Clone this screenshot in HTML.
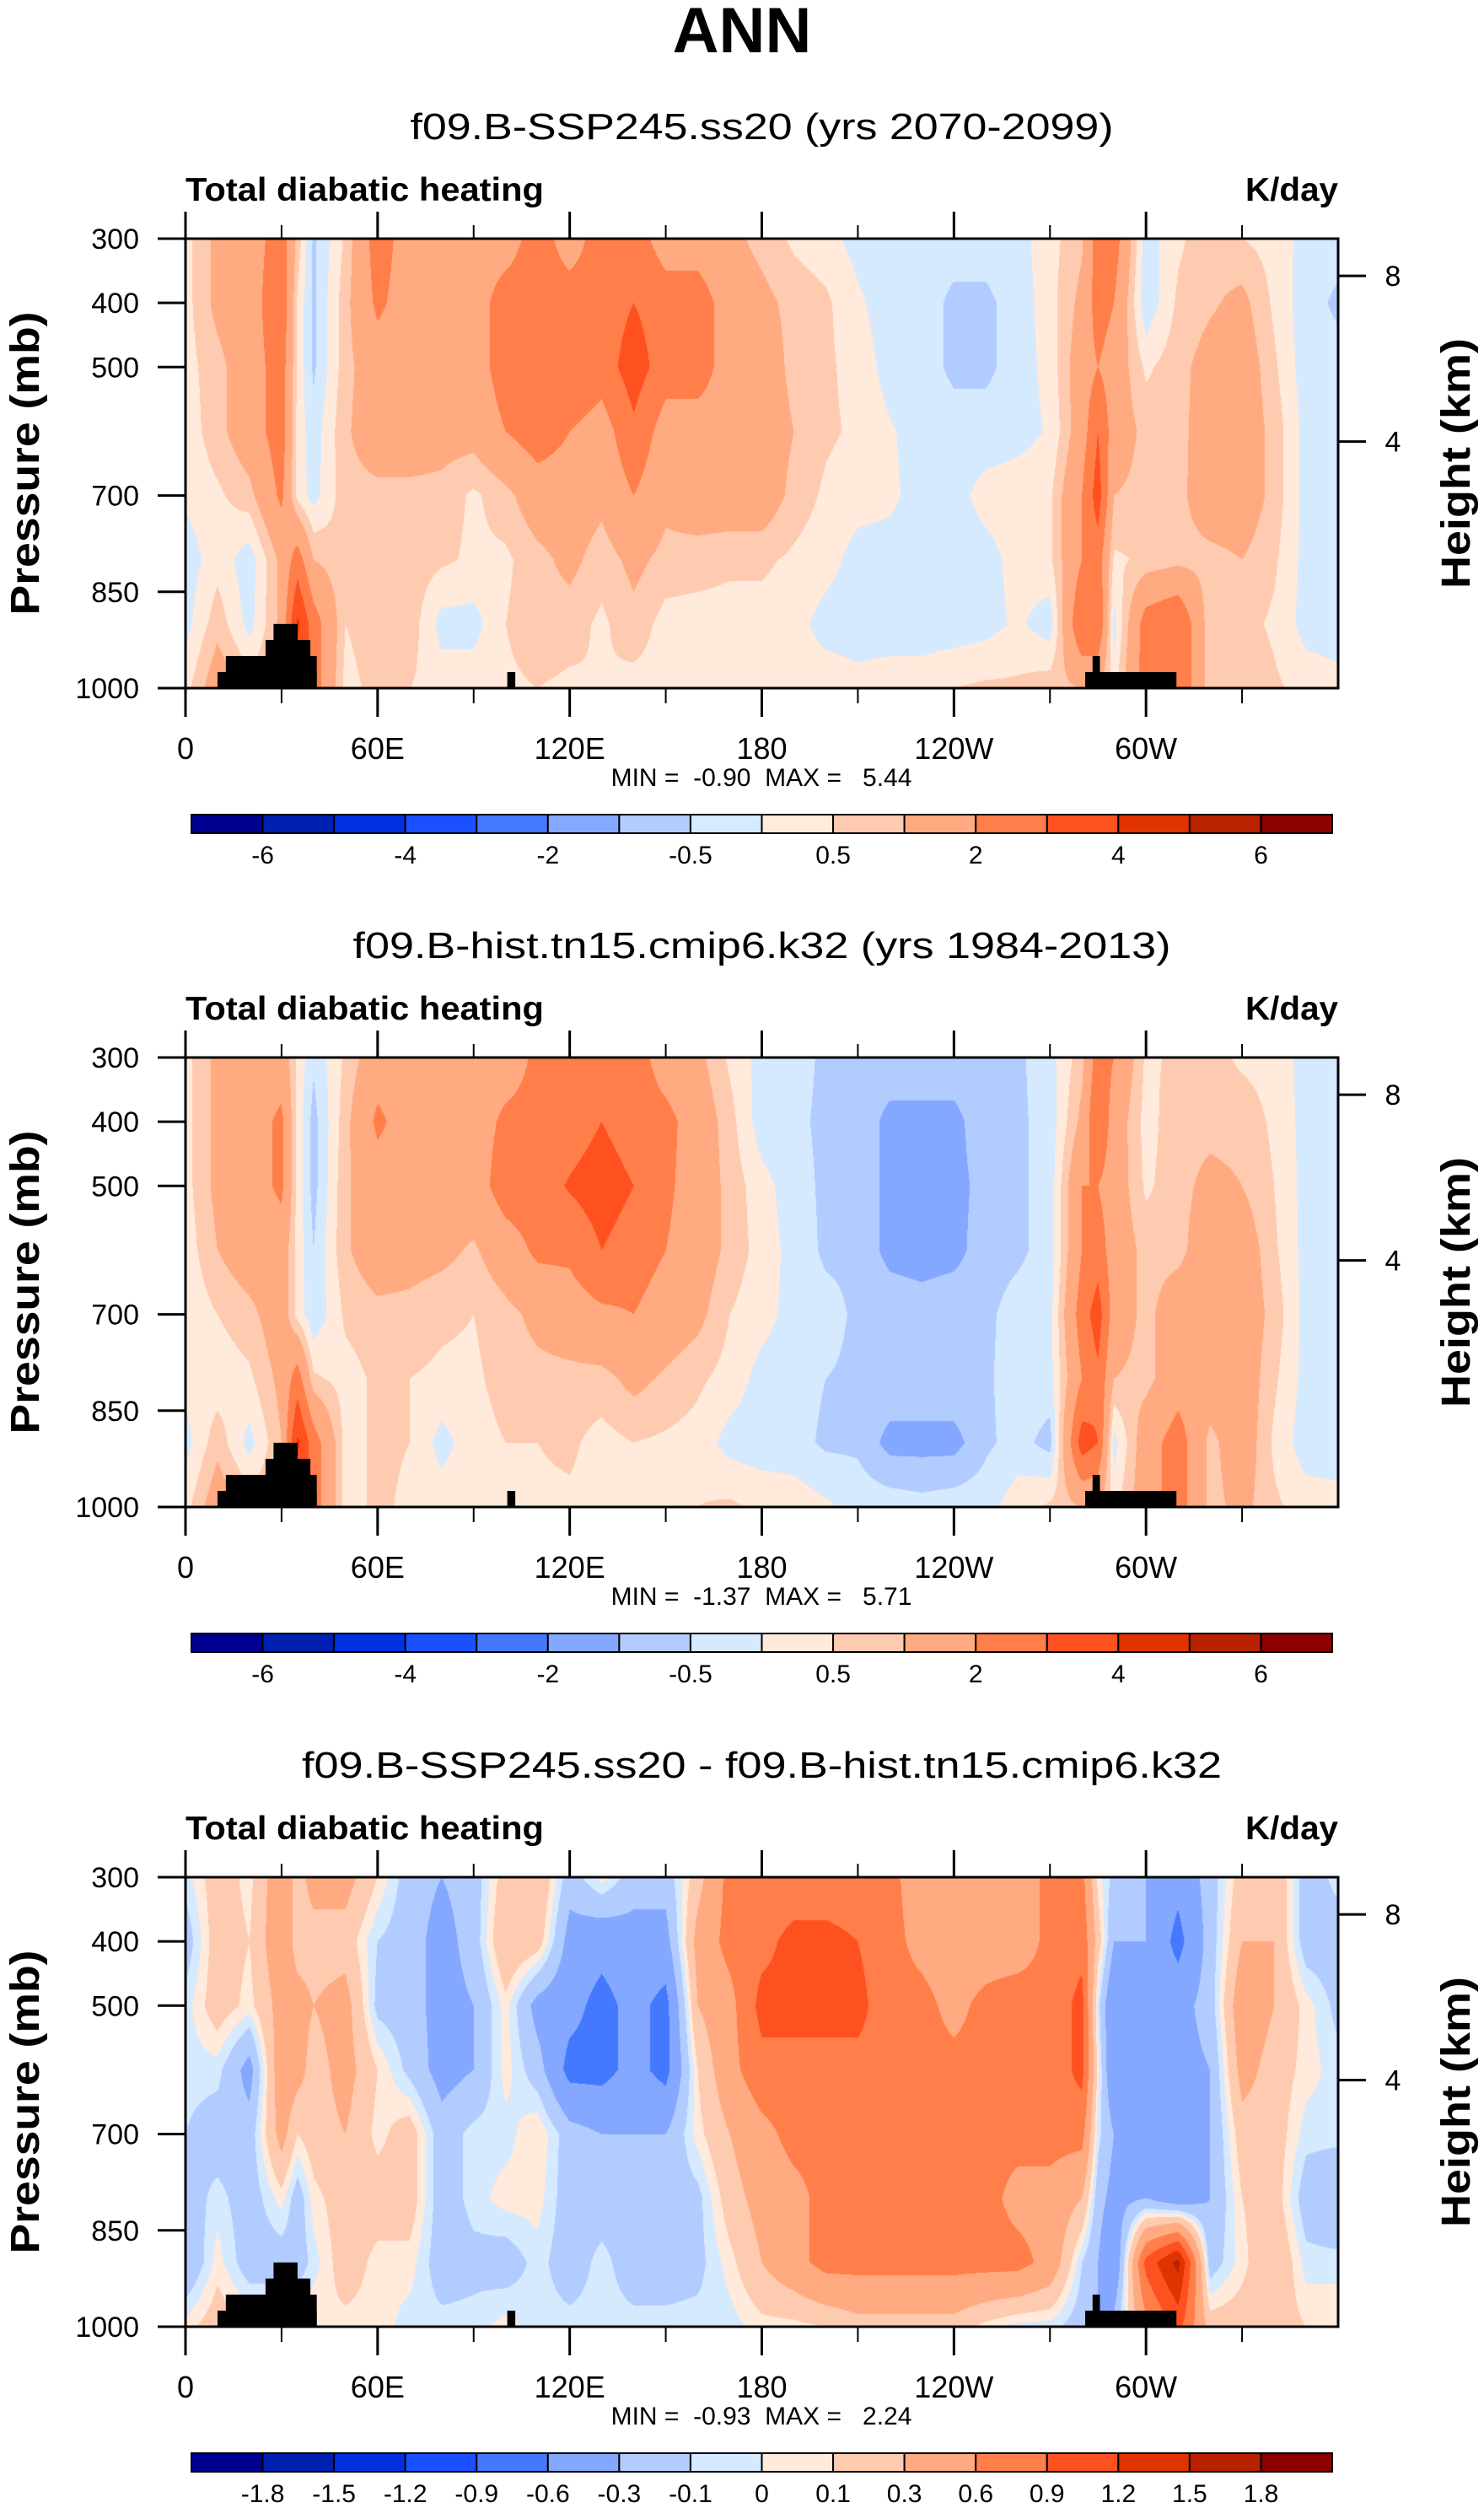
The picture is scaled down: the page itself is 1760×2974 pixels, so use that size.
<!DOCTYPE html>
<html><head><meta charset="utf-8">
<style>
html,body{margin:0;padding:0;background:#fff;}
#wrap{position:relative;width:1760px;height:2974px;overflow:hidden;background:#fff;}
canvas{position:absolute;}
svg{position:absolute;left:0;top:0;}
text{font-family:"Liberation Sans",Arial,sans-serif;fill:#000;}
</style></head>
<body>
<div id="wrap">
<canvas id="c0"></canvas>
<canvas id="c1"></canvas>
<canvas id="c2"></canvas>
<svg id="svg" width="1760" height="2974" xmlns="http://www.w3.org/2000/svg">
<text x="880" y="62" text-anchor="middle" font-size="76" font-weight="bold">ANN</text>
</svg>
</div>
<script>
// ---- data ----
const lons = [0,10,20,30,35,40,50,60,70,80,90,100,110,120,130,140,150,160,170,180,190,200,210,220,230,240,250,260,270,280,285,290,300,310,320,330,340,350,360];
const pressures = [300,400,500,600,700,800,900,1000];
// each row = one longitude column, values at pressures 300..1000
const field1 = [
[.3,.3,.3,.2,.1,-.3,-.2,.3],[1.2,1.2,.8,.8,.4,.3,.8,1.5],[1.5,1.5,1.5,1.5,.8,-.3,-.2,.8],[2.5,2.8,2.5,2.5,2.2,1.2,1.2,1.0],
[.8,.4,.4,.3,.3,2.5,4.2,3.5],[-.6,-.6,-.6,-.3,-.2,1.0,2.5,2.5],[.6,.8,.8,.9,.8,.6,.5,.3],[2.5,2.2,1.5,1.5,.8,.8,.8,.7],
[1.5,1.5,1.5,1.5,.8,.8,.8,.5],[1.5,1.5,1.5,1.3,.8,.6,-.2,.3],[1.5,1.5,1.5,1.3,.4,.4,-.2,.3],[1.5,2.5,2.5,2.0,.8,.4,.5,.4],
[2.5,2.5,2.5,2.5,1.5,.8,.8,.5],[1.5,2.5,3.0,2.0,1.5,1.2,.7,.4],[2.5,2.5,2.5,1.5,1.2,.7,.4,.5],[2.5,3.0,3.5,2.8,2.0,1.2,.8,.3],
[1.5,2.5,2.5,1.5,1.2,.8,.3,.3],[1.5,2.5,2.5,1.5,1.5,.7,.3,.3],[1.2,1.5,1.5,1.5,1.5,.6,.3,.2],[.8,1.2,1.5,1.5,1.5,.6,.3,.2],
[.4,.8,.8,1.0,.8,.4,.2,.2],[.2,.6,.6,.6,.4,.2,-.2,.3],[-.2,.1,.3,.4,.2,-.2,-.3,.2],[-.3,-.3,-.2,.05,.1,-.2,-.3,.3],
[-.3,-.3,-.3,-.2,-.2,-.3,-.3,.3],[-.3,-.6,-.6,-.3,-.2,-.3,-.3,.5],[-.3,-.6,-.6,-.3,.2,-.2,-.2,.6],[-.2,-.3,-.3,-.2,.3,.2,.1,.6],
[.3,.3,.2,.05,.4,.4,-.3,.8],[.9,1.2,1.5,1.5,2.0,2.0,3.0,1.0],[2.5,2.5,2.0,3.0,3.5,2.5,3.0,1.0],[2.5,2.0,1.5,1.5,1.0,.4,-.2,.3],
[-.3,-.4,.4,.8,.8,.6,2.5,2.5],[.4,.6,.8,.8,.8,.8,3.0,3.0],[.8,.9,1.3,1.4,1.5,.8,.6,.6],[.5,1.2,1.5,1.5,1.5,1.0,.7,1.0],
[.3,.4,.6,.8,.8,.6,.4,.6],[-.2,-.3,-.3,-.2,-.2,-.2,-.2,.3],[-.3,-.6,-.3,-.2,-.2,-.5,-.3,.2]];
const field2 = [
[.3,.3,.3,.2,.1,.2,-.2,.3],[1.2,1.2,1.2,1.0,.5,.2,.8,1.5],[1.5,1.5,1.5,1.5,.8,.4,-.2,.8],[1.5,2.2,2.2,1.5,1.5,1.2,1.0,1.0],
[.4,.3,.3,.3,.3,2.5,4.2,3.5],[-.4,-.7,-.7,-.5,-.4,.6,2.5,2.5],[.6,.8,.9,.9,.6,.3,.3,.3],[1.5,2.2,1.5,1.5,.8,.6,.6,.6],
[1.5,1.5,1.5,1.3,.8,.5,.5,.4],[1.5,1.5,1.5,1.2,.6,.4,-.2,.3],[1.5,1.5,1.5,.9,.5,.4,.3,.3],[1.5,2.2,2.5,1.5,.8,.7,.5,.4],
[2.2,2.3,2.5,2.2,1.2,.8,.5,.4],[2.5,2.5,3.1,2.2,1.5,.8,.6,.4],[2.5,3.0,3.5,3.0,1.8,.8,.3,.3],[2.5,2.5,3.0,2.5,2.0,1.2,.5,.3],
[1.5,2.3,2.2,2.0,1.5,.9,.4,.3],[1.2,1.5,1.5,1.5,1.2,.6,.3,.5],[.4,.7,.8,.8,.5,.3,-.2,.6],[-.2,-.3,.2,.3,.2,-.2,-.3,.4],
[-.3,-.4,-.3,-.2,-.2,-.3,-.3,.3],[-.6,-.6,-.6,-.6,-.3,-.5,-.6,.1],[-.6,-.6,-.6,-.6,-.6,-.6,-.6,-.2],[-.6,-1.2,-1.2,-1.2,-.6,-.6,-1.2,-.2],
[-.6,-1.2,-1.2,-1.3,-.7,-.6,-1.2,-.3],[-.6,-1.2,-1.2,-1.2,-.6,-.6,-1.2,-.2],[-.6,-.6,-.8,-.7,-.6,-.6,-.6,-.2],[-.6,-.6,-.6,-.6,-.3,-.2,-.3,.3],
[-.2,-.3,-.3,-.3,-.2,-.2,-.7,.6],[.8,1.2,2.0,2.0,2.5,2.0,3.5,1.0],[2.5,3.0,2.0,2.5,3.5,2.8,3.0,1.0],[2.0,1.5,1.5,1.5,1.5,1.0,-.2,.3],
[.4,.3,.4,.8,.8,.8,1.5,1.5],[.6,.8,.8,.8,1.5,1.5,2.5,2.5],[.7,.8,1.2,1.5,1.5,1.5,.8,.8],[.4,.8,1.0,1.5,1.5,1.5,1.5,1.2],
[.3,.4,.5,.6,.8,.6,.4,.6],[-.2,-.2,-.2,-.2,-.2,-.2,-.3,.3],[-.2,-.5,-.2,-.2,-.2,-.5,-.3,.2]];
const field3 = [
[-.05,-.2,-.05,-.05,-.1,-.2,-.3,.05],[.2,.2,.2,-.05,-.2,-.05,.05,.2],[.05,.1,.05,-.4,-.2,-.2,-.2,.1],[.5,.5,.4,.5,.4,.05,-.2,.1],
[.2,.2,.4,.4,.1,-.2,-.2,.1],[.4,.2,.3,.2,.2,.05,-.05,.1],[.4,.2,.4,.4,.3,.2,.2,.05],[.1,-.1,-.15,.1,.05,.2,.05,.05],
[-.2,-.2,-.2,-.15,.2,.2,.05,-.05],[-.3,-.4,-.4,-.4,-.2,-.2,-.2,-.05],[-.2,-.2,-.3,-.3,-.05,-.05,-.15,-.05],[.2,.3,.05,.05,-.05,.05,-.2,.05],
[.3,.2,-.4,-.2,.1,.05,-.05,-.05],[-.2,-.4,-.5,-.7,-.2,-.2,-.2,-.05],[.05,-.5,-.7,-.7,-.3,-.2,-.05,-.05],[-.2,-.4,-.5,-.5,-.3,-.2,-.2,-.05],
[-.2,-.4,-.7,-.7,-.3,-.2,-.2,-.05],[.2,.4,.3,.1,.05,-.15,-.15,-.05],[.7,.7,.5,.5,.3,.2,.05,-.05],[.7,.8,1.0,.8,.5,.4,.3,.05],
[.7,1.0,1.0,.8,.7,.5,.5,.05],[.7,1.0,1.0,.8,.7,.7,.7,.1],[.7,.9,1.0,.8,.8,.7,.7,.2],[.7,.7,.7,.8,.8,.7,.7,.2],
[.4,.5,.7,.7,.7,.7,.7,.2],[.4,.4,.5,.7,.7,.7,.7,.2],[.4,.4,.7,.7,.7,.7,.7,.05],[.4,.4,.8,.7,.7,.5,.7,-.05],
[.7,.7,.7,.7,.7,.5,.5,-.05],[.7,.8,1.0,1.0,.7,.3,-.1,-.2],[.05,.2,-.05,.05,-.05,-.2,-.3,-.3],[-.15,-.3,-.6,-.6,-.3,-.4,-.6,-.2],
[-.3,-.3,-.4,-.3,-.4,-.3,1.0,.5],[-.5,-.7,-.4,-.4,-.4,-.5,1.6,1.0],[-.2,-.2,-.2,-.3,-.3,-.3,-.2,.2],[.2,.3,.5,.4,.2,.1,.05,.2],
[.3,.3,.3,.2,.2,.2,.3,.2],[-.2,-.2,.05,.05,-.05,-.2,-.05,.1],[-.05,-.2,-.15,-.05,-.05,-.3,-.05,.1]];
const levelsAbs = [-6,-5,-4,-3,-2,-1,-0.5,0,0.5,1,2,3,4,5,6];
const levelsDiff = [-1.8,-1.5,-1.2,-0.9,-0.6,-0.3,-0.1,0,0.1,0.3,0.6,0.9,1.2,1.5,1.8];
const labelsAbs = ["-6","","-4","","-2","","-0.5","","0.5","","2","","4","","6"];
const labelsDiff = ["-1.8","-1.5","-1.2","-0.9","-0.6","-0.3","-0.1","0","0.1","0.3","0.6","0.9","1.2","1.5","1.8"];
const colors = ["#000090","#0020b0","#0030e0","#1a50ff","#4478ff","#84a8ff","#b3ccff","#d5e9ff","#ffeadb","#ffcbb0","#ffaa80","#ff7e4a","#ff5020","#e03300","#b82200","#8b0000"];
// topography mask: [lonStart, lonEnd, topPressure]
const terrain = [[10,41,975],[12.6,41,950],[25,39,925],[27.5,35,900],[100.5,103,975],[281,309.5,975],[283.3,285.6,950]];
const xTickLons = [0,60,120,180,240,300];
const xTickLabels = ["0","60E","120E","180","120W","60W"];
const minorLons = [30,90,150,210,270,330];
const pTicks = [300,400,500,700,850,1000];
const heightLabels = ["8","4"];
const heightPressures = [358,616];
const subtitles = ["f09.B-SSP245.ss20 (yrs 2070-2099)","f09.B-hist.tn15.cmip6.k32 (yrs 1984-2013)","f09.B-SSP245.ss20 - f09.B-hist.tn15.cmip6.k32"];
const subtitleWidths = [834,970,1091];
const minVals = ["-0.90","-1.37","-0.93"];
const maxVals = ["5.44","5.71","2.24"];

// ---- layout ----
const FX = 220, FW = 1367, FH = 533;
const panelTops = [283,1254,2226];
const xScale = l => FX + l/360*FW;
const yScale = (p,top) => top + (p-300)/700*FH;
const svg = document.getElementById('svg');
const NS = 'http://www.w3.org/2000/svg';
function mk(tag, attrs, txt){
  const e = document.createElementNS(NS, tag);
  for (const k in attrs) e.setAttribute(k, attrs[k]);
  if (txt !== undefined) e.textContent = txt;
  svg.appendChild(e);
  return e;
}
function hexRgb(h){return [parseInt(h.substr(1,2),16),parseInt(h.substr(3,2),16),parseInt(h.substr(5,2),16)];}
const rgb = colors.map(hexRgb);
function seg(arr, v){
  let i = 0;
  while (i < arr.length-2 && v > arr[i+1]) i++;
  return [i, Math.max(0, Math.min(1,(v-arr[i])/(arr[i+1]-arr[i])))];
}
function drawField(ci, field, levels){
  const cv = document.getElementById('c'+ci);
  cv.width = FW; cv.height = FH;
  cv.style.left = FX+'px'; cv.style.top = panelTops[ci]+'px';
  const ctx = cv.getContext('2d');
  const img = ctx.createImageData(FW, FH);
  const xs = [];
  for (let x=0;x<FW;x++) xs.push(seg(lons,(x+0.5)/FW*360));
  for (let y=0;y<FH;y++){
    const [j,ty] = seg(pressures, 300+(y+0.5)/FH*700);
    for (let x=0;x<FW;x++){
      const [i,tx] = xs[x];
      const a = field[i][j]*(1-ty)+field[i][j+1]*ty;
      const b = field[i+1][j]*(1-ty)+field[i+1][j+1]*ty;
      const v = a*(1-tx)+b*tx;
      let k = 0; while (k<levels.length && v>=levels[k]) k++;
      const c = rgb[k]; const o = (y*FW+x)*4;
      img.data[o]=c[0]; img.data[o+1]=c[1]; img.data[o+2]=c[2]; img.data[o+3]=255;
    }
  }
  ctx.putImageData(img,0,0);
}
const fields = [field1, field2, field3];
const levs = [levelsAbs, levelsAbs, levelsDiff];
const labs = [labelsAbs, labelsAbs, labelsDiff];
for (let ci=0; ci<3; ci++){
  const top = panelTops[ci], bot = top+FH;
  drawField(ci, fields[ci], levs[ci]);
  let e;
  e = mk('text',{x:FX+FW/2,y:top-118,'text-anchor':'middle','font-size':44,textLength:subtitleWidths[ci],lengthAdjust:'spacingAndGlyphs'},subtitles[ci]);
  
  
  e = mk('text',{x:FX,y:top-45,'font-size':39,'font-weight':'bold',textLength:425,lengthAdjust:'spacingAndGlyphs'},'Total diabatic heating');
  
  
  e = mk('text',{x:FX+FW,y:top-45,'text-anchor':'end','font-size':39,'font-weight':'bold',textLength:110,lengthAdjust:'spacingAndGlyphs'},'K/day');
  
  
  terrain.forEach(t=>{
    const r = mk('rect',{x:xScale(t[0]),y:yScale(t[2],top),width:xScale(t[1])-xScale(t[0]),height:bot-yScale(t[2],top),fill:'#000'});
    
    
  });
  e = mk('rect',{x:FX,y:top,width:FW,height:FH,fill:'none',stroke:'#000','stroke-width':3});
  
  
  xTickLons.forEach((l,i)=>{
    const x = xScale(l);
    e = mk('line',{x1:x,x2:x,y1:top-32,y2:top,stroke:'#000','stroke-width':3});
    
    
    e = mk('line',{x1:x,x2:x,y1:bot,y2:bot+34,stroke:'#000','stroke-width':3});
    
    
    e = mk('text',{x:x,y:bot+84,'text-anchor':'middle','font-size':36},xTickLabels[i]);
    
    
  });
  minorLons.forEach(l=>{
    const x = xScale(l);
    e = mk('line',{x1:x,x2:x,y1:top-16,y2:top,stroke:'#000','stroke-width':2});
    
    
    e = mk('line',{x1:x,x2:x,y1:bot,y2:bot+18,stroke:'#000','stroke-width':2});
    
    
  });
  pTicks.forEach(p=>{
    const y = yScale(p,top);
    e = mk('line',{x1:FX-33,x2:FX,y1:y,y2:y,stroke:'#000','stroke-width':3});
    
    
    e = mk('text',{x:165,y:y+12,'text-anchor':'end','font-size':34},String(p));
    
    
  });
  heightPressures.forEach((p,i)=>{
    const y = yScale(p,top);
    e = mk('line',{x1:FX+FW,x2:FX+FW+33,y1:y,y2:y,stroke:'#000','stroke-width':3});
    
    
    e = mk('text',{x:1652,y:y+12,'text-anchor':'middle','font-size':34},heightLabels[i]);
    
    
  });
  const cy = top+FH/2;
  e = mk('text',{x:0,y:0,'text-anchor':'middle','font-size':48,'font-weight':'bold',textLength:360,lengthAdjust:'spacingAndGlyphs',transform:`translate(46,${cy}) rotate(-90)`},'Pressure (mb)');
  
  
  e = mk('text',{x:0,y:0,'text-anchor':'middle','font-size':48,'font-weight':'bold',textLength:297,lengthAdjust:'spacingAndGlyphs',transform:`translate(1743,${cy}) rotate(-90)`},'Height (km)');
  
  
  e = mk('text',{x:903,y:bot+116,'text-anchor':'middle','font-size':30},'MIN =\u00a0\u00a0'+minVals[ci]+'\u00a0\u00a0MAX =\u00a0\u00a0\u00a0'+maxVals[ci]);
  
  
  const cbX = 227, cbW = 1353, cbY = bot+150, cbH = 22, bw = cbW/16;
  colors.forEach((c,k)=>{
    e = mk('rect',{x:cbX+k*bw,y:cbY,width:bw,height:cbH,fill:c,stroke:'#000','stroke-width':2});
    
    
  });
  labs[ci].forEach((t,k)=>{
    if (!t) return;
    e = mk('text',{x:cbX+(k+1)*bw,y:bot+208,'text-anchor':'middle','font-size':30},t);
    
    
  });
}
</script>
</body></html>
